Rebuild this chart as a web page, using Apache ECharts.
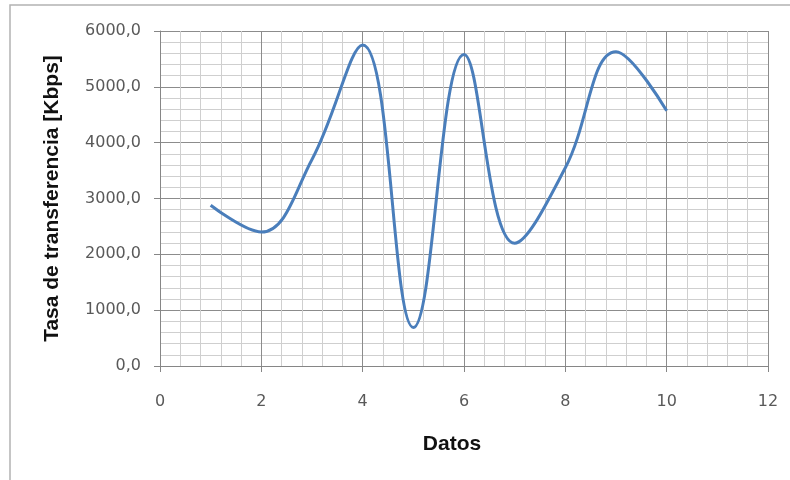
<!DOCTYPE html>
<html>
<head>
<meta charset="utf-8">
<script src="https://cdn.jsdelivr.net/npm/echarts@6/dist/echarts.min.js"></script>
<style>
  html, body { margin: 0; padding: 0; background: #fff; }
  #chart { width: 790px; height: 480px; }
</style>
</head>
<body>
<div id="chart"></div>
<script>
// datos medidos (x = dato, y = tasa en Kbps)
var datos = [1, 2, 3, 4, 5, 6, 7, 8, 9, 10]
var tasa = [2880, 2400, 3700, 5750, 690, 5580, 2200, 3550, 5630, 4570]

var chart = echarts.init(document.getElementById('chart'))

var points = datos.map(function (d, i) { return [d, tasa[i]] })

chart.setOption({
  animation: false,
  backgroundColor: '#fff',
  graphic: [{
    type: 'rect',
    shape: { x: 10, y: 5, width: 800, height: 500 },
    style: { fill: 'none', stroke: '#b3b3b3', lineWidth: 1.5 },
    silent: true
  }],
  grid: {
    left: 160,
    right: 22,
    top: 31,
    bottom: 114
  },
  xAxis: {
    type: 'value',
    min: 0,
    max: 12,
    interval: 2,
    name: 'Datos',
    nameLocation: 'middle',
    nameGap: 68,
    nameTextStyle: {
      fontFamily: 'Liberation Sans',
      fontWeight: 'bold',
      fontSize: 21,
      color: '#111',
      padding: [0, 24, 0, 0]
    },
    axisLine: { lineStyle: { color: '#868686', width: 1 } },
    axisTick: { show: true, length: 6, lineStyle: { color: '#868686' } },
    axisLabel: {
      margin: 28,
      fontFamily: 'DejaVu Sans',
      fontSize: 16,
      color: '#595959'
    },
    splitLine: { show: true, lineStyle: { color: '#8c8c8c', width: 1 } },
    minorTick: { show: false, splitNumber: 5 },
    minorSplitLine: { show: true, lineStyle: { color: '#cfcfcf', width: 1 } }
  },
  yAxis: {
    type: 'value',
    min: 0,
    max: 6000,
    interval: 1000,
    name: 'Tasa de transferencia [Kbps]',
    nameLocation: 'middle',
    nameGap: 97,
    nameTextStyle: {
      fontFamily: 'Liberation Sans',
      fontWeight: 'bold',
      fontSize: 21,
      color: '#111'
    },
    axisLine: { show: true, lineStyle: { color: '#868686', width: 1 } },
    axisTick: { show: true, length: 6, lineStyle: { color: '#868686' } },
    axisLabel: {
      margin: 19,
      fontFamily: 'DejaVu Sans',
      fontSize: 16,
      color: '#595959',
      formatter: function (v) { return v.toFixed(1).replace('.', ',') }
    },
    splitLine: { show: true, lineStyle: { color: '#8c8c8c', width: 1 } },
    minorTick: { show: false, splitNumber: 5 },
    minorSplitLine: { show: true, lineStyle: { color: '#cfcfcf', width: 1 } }
  },
  series: [{
    name: 'Tasa',
    type: 'line',
    data: points,
    smooth: 0.4,
    symbol: 'none',
    lineStyle: { color: '#4a7ebb', width: 3 }
  }]
})
</script>
</body>
</html>
